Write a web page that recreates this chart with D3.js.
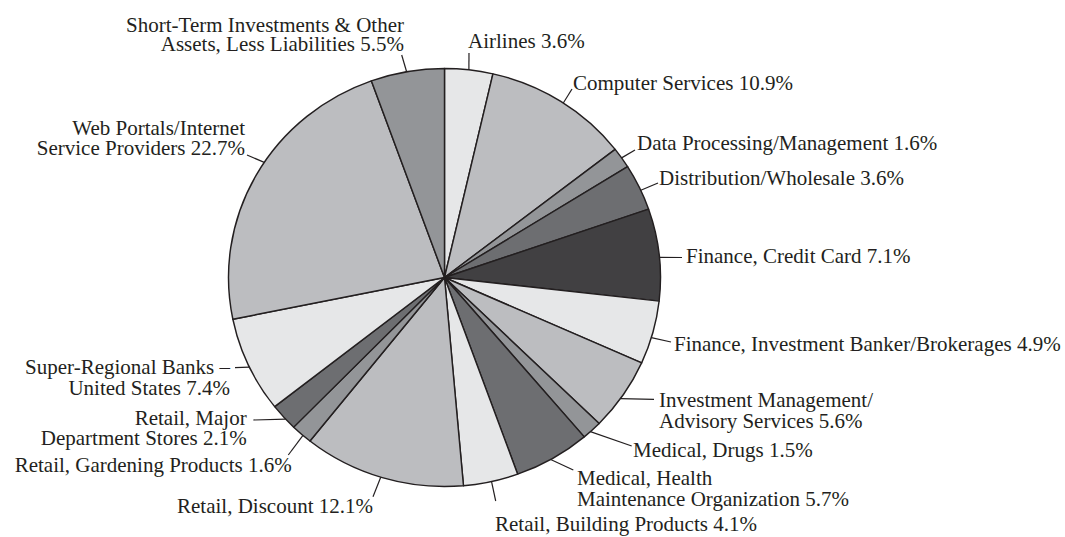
<!DOCTYPE html>
<html>
<head>
<meta charset="utf-8">
<script src="https://cdn.jsdelivr.net/npm/d3@7"></script>
<style>
  html, body { margin: 0; padding: 0; background: #fff; }
  svg { display: block; }
</style>
</head>
<body>
<svg id="chart" width="1065" height="537"></svg>
<script>
// ---- data ----
const categories = [
  "Airlines", "Computer Services", "Data Processing/Management", "Distribution/Wholesale",
  "Finance, Credit Card", "Finance, Investment Banker/Brokerages", "Investment Management/Advisory Services",
  "Medical, Drugs", "Medical, Health Maintenance Organization", "Retail, Building Products",
  "Retail, Discount", "Retail, Gardening Products", "Retail, Major Department Stores",
  "Super-Regional Banks – United States", "Web Portals/Internet Service Providers",
  "Short-Term Investments & Other Assets, Less Liabilities"
];
const values = [3.6, 10.9, 1.6, 3.6, 7.1, 4.9, 5.6, 1.5, 5.7, 4.1, 12.1, 1.6, 2.1, 7.4, 22.7, 5.5];
const labelLines = [
  ["Airlines 3.6%"],
  ["Computer Services 10.9%"],
  ["Data Processing/Management 1.6%"],
  ["Distribution/Wholesale 3.6%"],
  ["Finance, Credit Card 7.1%"],
  ["Finance, Investment Banker/Brokerages 4.9%"],
  ["Investment Management/", "Advisory Services 5.6%"],
  ["Medical, Drugs 1.5%"],
  ["Medical, Health", "Maintenance Organization 5.7%"],
  ["Retail, Building Products 4.1%"],
  ["Retail, Discount 12.1%"],
  ["Retail, Gardening Products 1.6%"],
  ["Retail, Major", "Department Stores 2.1%"],
  ["Super-Regional Banks –", "United States 7.4%"],
  ["Web Portals/Internet", "Service Providers 22.7%"],
  ["Short-Term Investments & Other", "Assets, Less Liabilities 5.5%"]
];

// ---- layout (positions/styles) ----
const shades = ["#e6e7e8", "#bcbdc0", "#939598", "#6d6e71", "#414042",
                "#e6e7e8", "#bcbdc0", "#939598", "#6d6e71",
                "#e6e7e8", "#bcbdc0", "#939598", "#6d6e71",
                "#e6e7e8", "#bcbdc0", "#939598"];
// leader: fraction within slice, leader end [x,y]; text: x, anchor, baselines
const labelLayout = [
  {t: 0.5,  end: [469, 53],    tx: 468, anchor: "start", ys: [48]},
  {t: 0.52, end: [572, 89],    tx: 573, anchor: "start", ys: [90]},
  {t: 0.5,  end: [635, 150],   tx: 637, anchor: "start", ys: [150]},
  {t: 0.57, end: [658, 183],   tx: 659, anchor: "start", ys: [185]},
  {t: 0.53, end: [682, 257.5], tx: 686, anchor: "start", ys: [262.5]},
  {t: 0.58, end: [671, 342],   tx: 674, anchor: "start", ys: [350.5]},
  {t: 0.56, end: [654, 399.3], tx: 659, anchor: "start", ys: [406.5, 428]},
  {t: 0.6,  end: [631.7, 446], tx: 633, anchor: "start", ys: [456.5]},
  {t: 0.53, end: [573.3, 470], tx: 577, anchor: "start", ys: [485, 505.5]},
  {t: 0.49, end: [495.7, 501], tx: 495, anchor: "start", ys: [531]},
  {t: 0.51, end: [373, 496.7], tx: 373, anchor: "end",   ys: [513.3]},
  {t: 0.42, end: [288.3, 455], tx: 291.7, anchor: "end", ys: [471.7]},
  {t: 0.4,  end: [253.3, 420], tx: 246.7, anchor: "end", ys: [425, 445]},
  {t: 0.48, end: [235, 367.7], tx: 230, anchor: "end",   ys: [374, 395]},
  {t: 0.55, end: [247, 155],   tx: 245, anchor: "end",   ys: [135, 155]},
  {t: 0.49, end: [401.7, 55],  tx: 404, anchor: "end",   ys: [31.7, 50.7]}
];

const cx = 444.5, cy = 277.5, r = 209, sx = 216 / 209;
const ink = "#231f20";

const svg = d3.select("#chart");
const data = categories.map((c, i) => ({name: c, value: values[i], i}));
const pie = d3.pie().sort(null).value(d => d.value);
const arcs = pie(data);
const arc = d3.arc().innerRadius(0).outerRadius(r);

const g = svg.append("g").attr("transform", `translate(${cx},${cy}) scale(${sx},1)`);
g.selectAll("path.slice").data(arcs).join("path")
  .attr("class", "slice")
  .attr("d", arc)
  .attr("fill", d => shades[d.data.i])
  .attr("stroke", ink)
  .attr("stroke-width", 1.4)
  .attr("stroke-linejoin", "round");

// leader lines
const lead = svg.append("g");
arcs.forEach((a, i) => {
  const L = labelLayout[i];
  const ang = a.startAngle + (a.endAngle - a.startAngle) * L.t;
  const x1 = cx + sx * r * Math.sin(ang);
  const y1 = cy - r * Math.cos(ang);
  lead.append("line")
    .attr("x1", x1).attr("y1", y1)
    .attr("x2", L.end[0]).attr("y2", L.end[1])
    .attr("stroke", ink).attr("stroke-width", 1.2);
});

// labels
const lab = svg.append("g")
  .attr("font-family", "'Liberation Serif', 'Times New Roman', serif")
  .attr("font-size", 21)
  .attr("fill", ink);
labelLines.forEach((lines, i) => {
  const L = labelLayout[i];
  lines.forEach((s, k) => {
    lab.append("text")
      .attr("x", L.tx).attr("y", L.ys[k])
      .attr("text-anchor", L.anchor)
      .text(s);
  });
});
</script>
</body>
</html>
